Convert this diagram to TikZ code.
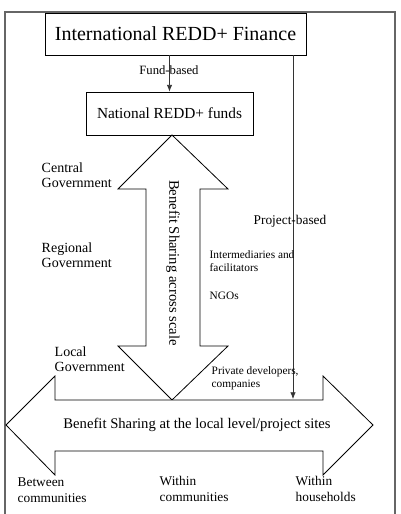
\documentclass[tikz,border=0pt]{standalone}
\usepackage{fontspec}
\setmainfont{Liberation Serif}
\usetikzlibrary{arrows.meta}
\begin{document}
\begin{tikzpicture}[x=0.75pt,y=-0.75pt,
  box/.style={draw, line width=0.6pt, inner sep=0pt},
  bigarrow/.style={draw, line width=0.6pt, fill=white, line join=miter},
  conn/.style={draw, line width=0.5pt, -{Latex[length=5pt,width=4pt]}, black!80},
  gov/.style={anchor=west, align=left, font=\fontsize{10.5}{11.5}\selectfont},
  small/.style={anchor=west, align=left, font=\fontsize{8.5}{9.8}\selectfont},
  bottomlbl/.style={anchor=west, align=left, font=\fontsize{10}{12}\selectfont}]
\useasboundingbox (0,0) rectangle (400,514);
\draw[line width=0.8pt, black!60] (5,514) -- (5,12) -- (395,12) -- (395,514);

\node[box, minimum width=195.75pt, minimum height=31.5pt, font=\fontsize{15}{17}\selectfont] (intl) at (175.5,34) {International REDD+ Finance};
\node[box, minimum width=125.25pt, minimum height=32.25pt, font=\fontsize{11.5}{13}\selectfont] (natl) at (169.5,113.5) {National REDD+ funds};

% vertical double arrow
\draw[bigarrow] (172,135) -- (228,189) -- (200,189) -- (200,346) -- (228,346) -- (172,400) -- (118,346) -- (146,346) -- (146,189) -- (118,189) -- cycle;
\node[rotate=-90, font=\fontsize{11}{13}\selectfont] (across) at (173,263) {Benefit Sharing across scale};

% horizontal double arrow
\draw[bigarrow] (6,425) -- (55,376) -- (55,400) -- (323,400) -- (323,376) -- (373,425) -- (323,475) -- (323,451) -- (55,451) -- (55,475) -- cycle;
\node[font=\fontsize{11}{13}\selectfont] (local) at (197,425) {Benefit Sharing at the local level/project sites};

% connectors
\draw[conn] (natl.north |- intl.south) -- (natl.north);
\coordinate (pstart) at (293,55);
\coordinate (pend) at (293,399);
\draw[conn] (pstart) -- (pend);
\node[font=\fontsize{9.5}{11}\selectfont] (fund) at (169,70) {Fund-based};
\node[font=\fontsize{10}{11}\selectfont] (proj) at (290,221) {Project-based};

% labels
\node[gov] (central) at (37,175) {Central\\Government};
\node[gov] (regional) at (37,255) {Regional\\Government};
\node[gov] (localgov) at (50,359) {Local\\Government};

\node[small] (inter) at (205,261) {Intermediaries and\\facilitators};
\node[small] (ngo) at (205,296) {NGOs};
\node[small] (priv) at (207,378) {Private developers,\\companies};

\node[bottomlbl] (between) at (13,490) {Between\\communities};
\node[bottomlbl] (withinc) at (155,489) {Within\\communities};
\node[bottomlbl] (withinh) at (291,489) {Within\\households};
\end{tikzpicture}
\end{document}
